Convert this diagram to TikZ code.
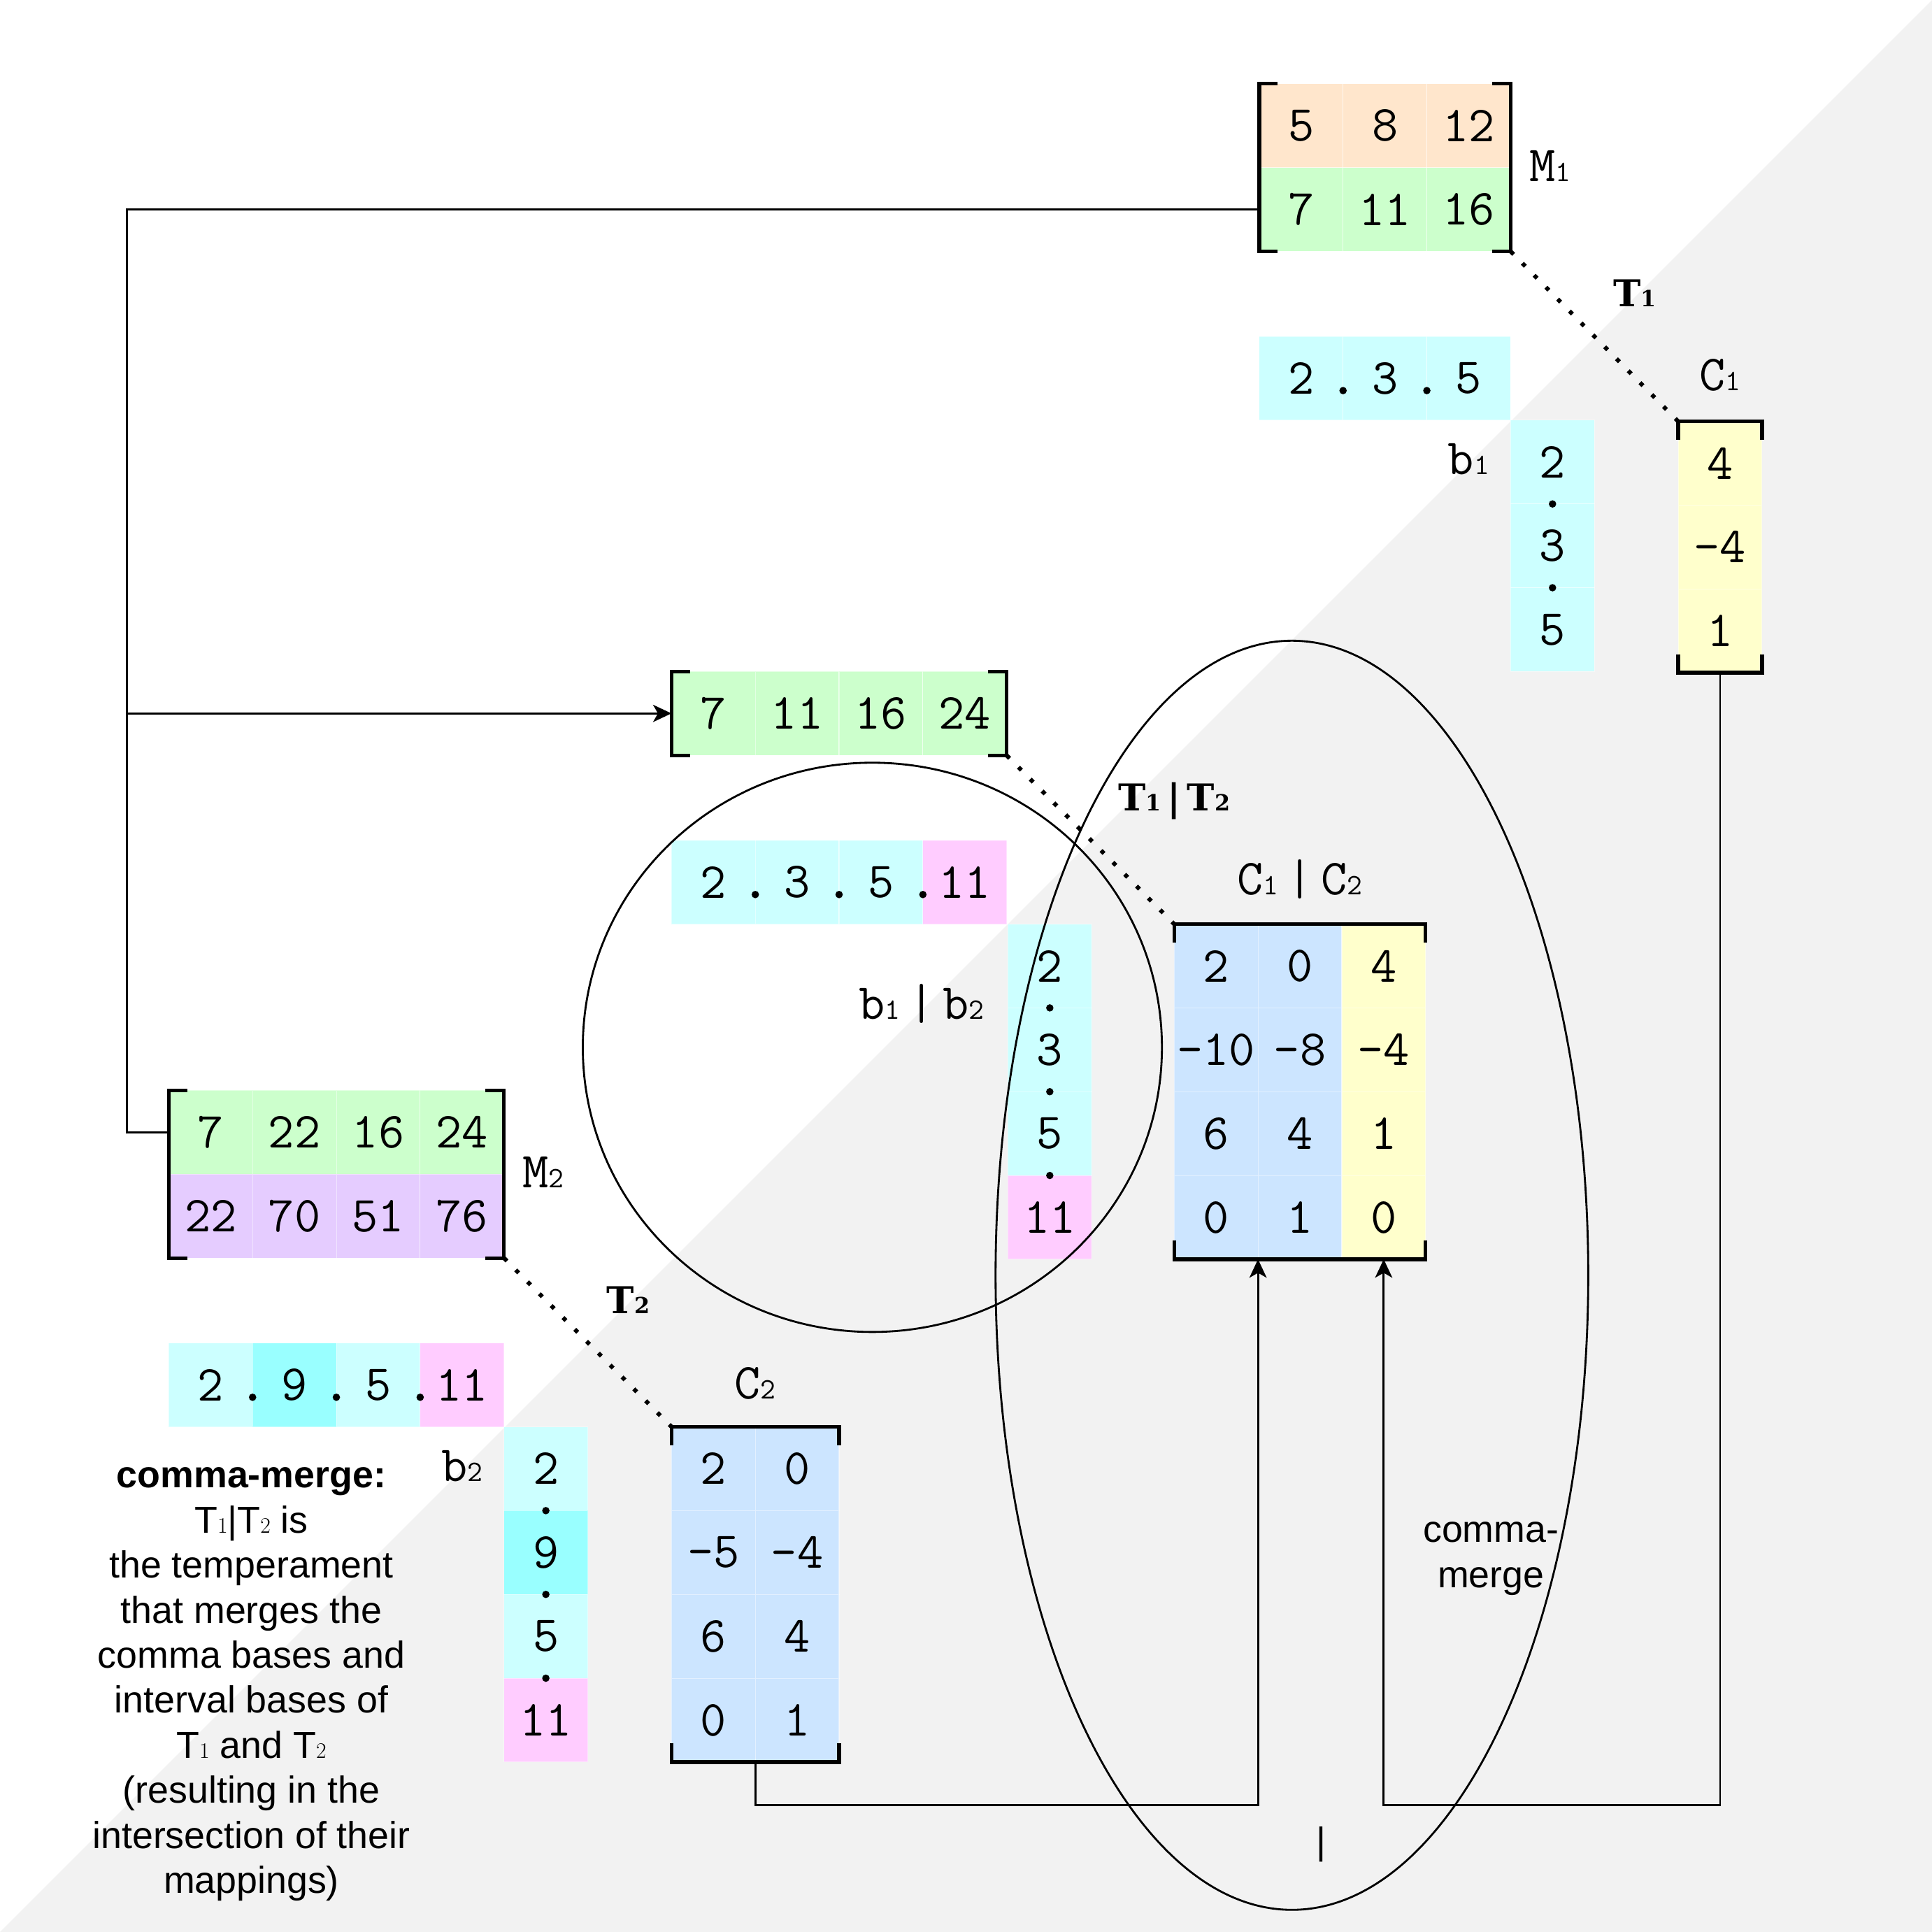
\documentclass[tikz,border=0pt]{standalone}
\usepackage{fontspec}
\setsansfont{Liberation Sans}
\newfontfamily\tbfont{DejaVu Serif}
\usetikzlibrary{arrows.meta}
\definecolor{bggray}{HTML}{F2F2F2}
\definecolor{peach}{HTML}{FFE6CC}
\definecolor{lgreen}{HTML}{CCFFCC}
\definecolor{lcyan}{HTML}{CCFFFF}
\definecolor{bcyan}{HTML}{99FFFF}
\definecolor{lpink}{HTML}{FFCCFF}
\definecolor{lpurple}{HTML}{E5CCFF}
\definecolor{lblue}{HTML}{CCE5FF}
\definecolor{lyellow}{HTML}{FFFFCC}
\newcommand\monosz{\ttfamily\fontsize{41}{41}\selectfont}
\newcommand\lowsub[1]{{\fontsize{24}{24}\selectfont #1}}
\newcommand\lowsubb[1]{{\fontsize{18}{18}\selectfont #1}}
\newcommand\lowsubs[1]{{\rmfamily\fontsize{18}{18}\selectfont #1}}
\begin{document}
\begin{tikzpicture}[x=1pt,y=-1pt,
 cell/.style={minimum width=68pt,minimum height=68pt,inner sep=0pt,outer sep=0pt,draw=white,draw opacity=0.45,line width=0.6pt,font=\monosz},
 frame/.style 2 args={minimum width=#1,minimum height=#2,inner sep=0pt,outer sep=0pt},
 brk/.style={line width=3pt,line cap=butt,line join=miter},
 conn/.style={line width=1.6pt},
 tip/.style={-{Stealth[length=15pt,width=14pt,inset=4pt]}},
 dotline/.style={line width=3.4pt,line cap=butt,dash pattern=on 3.4pt off 10.2pt},
 lab/.style={font=\monosz,anchor=base,inner sep=0pt},
 tlab/.style={font=\tbfont\bfseries\fontsize{30}{30}\selectfont,anchor=base,inner sep=0pt},
 sans/.style={font=\sffamily\fontsize{30.5}{36.6}\selectfont,align=center,inner sep=0pt}
]
% background
\fill[white] (0,0) rectangle (1568,1568);
\fill[bggray] (1568,0) -- (1568,1568) -- (0,1568) -- cycle;
\useasboundingbox (0,0) rectangle (1568,1568);

% ---------- M1 ----------
\node[frame={204pt}{136pt}] (M1) at (1124,136) {};
\foreach \v [count=\i] in {5,8,12} \node[cell,fill=peach] (M1a\i) at ({988+68*\i},102) {\v};
\foreach \v [count=\i] in {7,11,16} \node[cell,fill=lgreen] (M1b\i) at ({988+68*\i},170) {\v};
\draw[brk] ([xshift=15pt]M1.north west) -- (M1.north west) -- (M1.south west) -- ([xshift=15pt]M1.south west);
\draw[brk] ([xshift=-15pt]M1.north east) -- (M1.north east) -- (M1.south east) -- ([xshift=-15pt]M1.south east);
\node[lab] (lM1) at (1258,147) {M\lowsub{1}};

% ---------- row 2.3.5 and b1 ----------
\foreach \v [count=\i] in {2,3,5} \node[cell,fill=lcyan] (R1c\i) at ({988+68*\i},307) {\v};
\fill (1090,317) circle (3pt) (1158,317) circle (3pt);
\foreach \v [count=\i] in {2,3,5} \node[cell,fill=lcyan] (B1c\i) at (1260,{307+68*\i}) {\v};
\fill (1260,409) circle (3pt) (1260,477) circle (3pt);
\node[lab] (lb1) at (1192,385) {b\lowsub{1}};

% ---------- C1 ----------
\node[frame={68pt}{204pt}] (C1) at (1396,444) {};
\foreach \v [count=\i] in {4,-4,1} \node[cell,fill=lyellow] (C1c\i) at (1396,{308+68*\i}) {\v};
\draw[brk] ([yshift=-15pt]C1.north west) -- (C1.north west) -- (C1.north east) -- ([yshift=-15pt]C1.north east);
\draw[brk] ([yshift=15pt]C1.south west) -- (C1.south west) -- (C1.south east) -- ([yshift=15pt]C1.south east);
\node[lab] (lC1) at (1396,317) {C\lowsub{1}};
\node[tlab] (lT1) at (1327,249) {T\lowsubb{1}};

% ---------- merged mapping ----------
\node[frame={272pt}{68pt}] (MM) at (681,579) {};
\foreach \v [count=\i] in {7,11,16,24} \node[cell,fill=lgreen] (MMc\i) at ({511+68*\i},579) {\v};
\draw[brk] ([xshift=15pt]MM.north west) -- (MM.north west) -- (MM.south west) -- ([xshift=15pt]MM.south west);
\draw[brk] ([xshift=-15pt]MM.north east) -- (MM.north east) -- (MM.south east) -- ([xshift=-15pt]MM.south east);
\node[tlab] (lT12) at (953,658) {T\lowsubb{1}\,|\,T\lowsubb{2}};

% ---------- row 2.3.5.11 and b1|b2 ----------
\foreach \v [count=\i] in {2,3,5} \node[cell,fill=lcyan] (R12c\i) at ({511+68*\i},716) {\v};
\node[cell,fill=lpink] (R12c4) at (783,716) {11};
\fill (613,726) circle (3pt) (681,726) circle (3pt) (749,726) circle (3pt);
\foreach \v [count=\i] in {2,3,5} \node[cell,fill=lcyan] (B12c\i) at (852,{716+68*\i}) {\v};
\node[cell,fill=lpink] (B12c4) at (852,988) {11};
\fill (852,818) circle (3pt) (852,886) circle (3pt) (852,954) circle (3pt);
\node[lab] (lb12) at (748,827) {b\lowsub{1}\,|\,b\lowsub{2}};

% ---------- C1|C2 ----------
\node[frame={204pt}{272pt}] (C12) at (1055,886) {};
\foreach \a/\b/\c [count=\i] in {2/0/4,-10/-8/-4,6/4/1,0/1/0}{
  \node[cell,fill=lblue] (C12r\i a) at (987,{716+68*\i}) {\a};
  \node[cell,fill=lblue] (C12r\i b) at (1055,{716+68*\i}) {\b};
  \node[cell,fill=lyellow] (C12r\i c) at (1123,{716+68*\i}) {\c};
}
\draw[brk] ([yshift=-15pt]C12.north west) -- (C12.north west) -- (C12.north east) -- ([yshift=-15pt]C12.north east);
\draw[brk] ([yshift=15pt]C12.south west) -- (C12.south west) -- (C12.south east) -- ([yshift=15pt]C12.south east);
\node[lab] (lC12) at (1055,726) {C\lowsub{1}\,|\,C\lowsub{2}};

% ---------- M2 ----------
\node[frame={272pt}{136pt}] (M2) at (273,953) {};
\foreach \v [count=\i] in {7,22,16,24} \node[cell,fill=lgreen] (M2a\i) at ({103+68*\i},919) {\v};
\foreach \v [count=\i] in {22,70,51,76} \node[cell,fill=lpurple] (M2b\i) at ({103+68*\i},987) {\v};
\draw[brk] ([xshift=15pt]M2.north west) -- (M2.north west) -- (M2.south west) -- ([xshift=15pt]M2.south west);
\draw[brk] ([xshift=-15pt]M2.north east) -- (M2.north east) -- (M2.south east) -- ([xshift=-15pt]M2.south east);
\node[lab] (lM2) at (441,964) {M\lowsub{2}};
\node[tlab] (lT2) at (510,1066) {T\lowsubb{2}};

% ---------- row 2.9.5.11 and b2 ----------
\node[cell,fill=lcyan] (R2c1) at (171,1124) {2};
\node[cell,fill=bcyan] (R2c2) at (239,1124) {9};
\node[cell,fill=lcyan] (R2c3) at (307,1124) {5};
\node[cell,fill=lpink] (R2c4) at (375,1124) {11};
\fill (205,1134) circle (3pt) (273,1134) circle (3pt) (341,1134) circle (3pt);
\node[cell,fill=lcyan] (B2c1) at (443,1192) {2};
\node[cell,fill=bcyan] (B2c2) at (443,1260) {9};
\node[cell,fill=lcyan] (B2c3) at (443,1328) {5};
\node[cell,fill=lpink] (B2c4) at (443,1396) {11};
\fill (443,1226) circle (3pt) (443,1294) circle (3pt) (443,1362) circle (3pt);
\node[lab] (lb2) at (375,1202) {b\lowsub{2}};

% ---------- C2 ----------
\node[frame={136pt}{272pt}] (C2) at (613,1294) {};
\foreach \a/\b [count=\i] in {2/0,-5/-4,6/4,0/1}{
  \node[cell,fill=lblue] (C2r\i a) at (579,{1124+68*\i}) {\a};
  \node[cell,fill=lblue] (C2r\i b) at (647,{1124+68*\i}) {\b};
}
\draw[brk] ([yshift=-15pt]C2.north west) -- (C2.north west) -- (C2.north east) -- ([yshift=-15pt]C2.north east);
\draw[brk] ([yshift=15pt]C2.south west) -- (C2.south west) -- (C2.south east) -- ([yshift=15pt]C2.south east);
\node[lab] (lC2) at (613,1135) {C\lowsub{2}};

% ---------- connectors ----------
\coordinate (J) at (103,579);
\draw[conn] (M1b1.west) -| (J) |- (M2a1.west);
\draw[conn,tip] (J) -- (MMc1.west);
\coordinate (K1) at (1396,1465);
\draw[conn,tip] (C1.south) -- (K1) -| (C12r4c.south);
\coordinate (K2) at (1021,1465);
\draw[conn,tip] (C2.south) |- (K2) -- (C12r4a.south east);

\draw[dotline] (M1.south east) -- (C1.north west);
\draw[dotline] (MM.south east) -- (C12.north west);
\draw[dotline] (M2.south east) -- (C2.north west);

% ---------- ellipses ----------
\draw[conn] (708,850) ellipse [x radius=235pt, y radius=231pt];
\draw[conn] (1048.5,1035) ellipse [x radius=240.5pt, y radius=515pt];

% ---------- texts ----------
\node[sans] (expl) at (204,1367) {\textbf{comma-merge:}\\T\lowsubs{1}|T\lowsubs{2} is\\the temperament\\that merges the\\comma bases and\\interval bases of\\T\lowsubs{1} and T\lowsubs{2}\\(resulting in the\\intersection of their\\mappings)};
\node[sans] (cm) at (1210,1265) {comma-\\merge};
\node[sans] (bar) at (1072,1497) {|};
\end{tikzpicture}
\end{document}
